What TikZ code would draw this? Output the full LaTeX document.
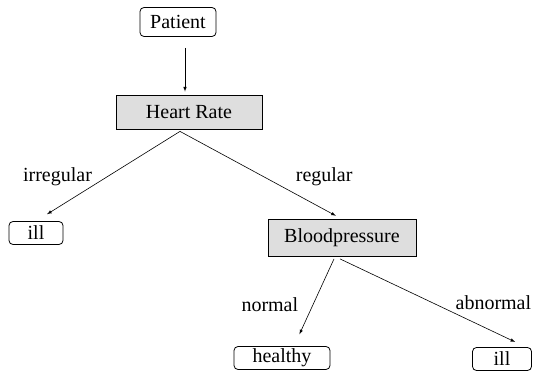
\documentclass[tikz,border=0pt]{standalone}
\usepackage{fontspec}
\setmainfont{Liberation Serif}
\usetikzlibrary{arrows,positioning}
\definecolor{boxgray}{RGB}{222,222,222}

\tikzset{
  leafbox/.style={draw,rounded corners=4pt,thick,inner ysep=2pt,font=\fontsize{20}{23}\selectfont},
  testbox/.style={draw,fill=boxgray,thick,minimum height=34pt,font=\fontsize{20}{23}\selectfont},
  branch/.style={font=\fontsize{20}{23}\selectfont},
  edgearrow/.style={->,>=latex,semithick}
}

\begin{document}
\begin{tikzpicture}[x=1pt,y=-1pt]
        \useasboundingbox (0,0) rectangle (535,382);

        \coordinate (v1) at (178,22);
        \coordinate (v2) at (189,112);
        \coordinate (v3) at (36,233);
        \coordinate (v4) at (342,238);
        \coordinate (v5) at (282,358);
        \coordinate (v6) at (502,359);

        \node[leafbox,minimum width=76pt,minimum height=29pt] (Patient) at (v1){Patient};
        \node[testbox,minimum width=146pt] (HeartRate) at (v2){Heart Rate};
        \node[leafbox,minimum width=54pt,minimum height=23pt] (IllLeft) at (v3){ill};
        \node[testbox,minimum width=148pt,minimum height=37pt] (Bloodpressure) at (v4){Bloodpressure};
        \node[leafbox,minimum width=96pt,minimum height=23pt] (Healthy) at (v5){healthy};
        \node[leafbox,minimum width=59pt,minimum height=23pt] (IllRight) at (v6){ill};

        \draw[edgearrow] ([xshift=7pt,yshift=-11pt]Patient.south) -- ([xshift=-4pt,yshift=3pt]HeartRate.north);
        \draw[edgearrow,shorten >=13pt] ([xshift=-9pt,yshift=-2pt]HeartRate.south) -- (IllLeft.north)
            node[branch,pos=0.51,left=11pt] {irregular};
        \draw[edgearrow,shorten >=7pt] ([xshift=-9pt,yshift=-2pt]HeartRate.south) -- (Bloodpressure.north)
            node[branch,pos=0.52,right=28pt] {regular};
        \draw[edgearrow,shorten >=13pt] ([xshift=-8pt,yshift=-2pt]Bloodpressure.south) -- ([xshift=12pt]Healthy.north)
            node[branch,pos=0.53,left=11pt] {normal};
        \draw[edgearrow,shorten >=12pt] ([xshift=-2pt,yshift=-2pt]Bloodpressure.south) -- ([xshift=24pt]IllRight.north)
            node[branch,pos=0.5,right=19pt] {abnormal};
    \end{tikzpicture}
\end{document}
